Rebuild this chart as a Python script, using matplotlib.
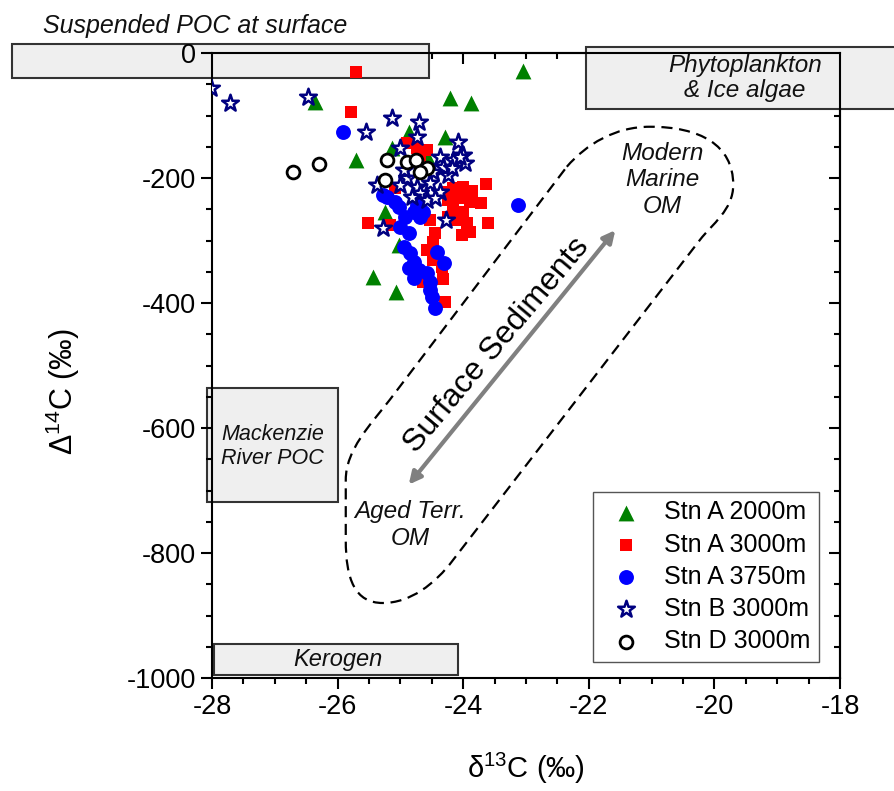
import matplotlib
matplotlib.use("Agg")
import matplotlib.pyplot as plt
from matplotlib.patches import Rectangle, PathPatch, FancyArrowPatch
from matplotlib.path import Path
from matplotlib.ticker import MultipleLocator

plt.rcParams["font.family"] = ["Liberation Sans", "DejaVu Sans"]
plt.rcParams["mathtext.default"] = "regular"
plt.rcParams["axes.unicode_minus"] = False

# ── Data (d13C, D14C) ────────────────────────────────────────────────────────
stnA2000_x = [-23.04, -26.36, -24.21, -23.87, -24.29, -24.87, -25.71, -25.14, -24.56,
              -25.25, -25.03, -25.43, -25.07]
stnA2000_y = [-29, -78, -72, -80, -134, -126, -171, -152, -168, -254, -307, -358, -382]

stnA3000_x = [-25.71, -25.79, -24.90, -24.74, -23.63, -23.71, -23.60, -23.89, -24.02,
              -25.51, -25.17, -24.53, -24.45, -24.48, -24.58, -24.48, -24.34, -24.32,
              -24.64, -24.29, -24.16, -24.00, -23.86, -24.24, -24.05, -23.89, -24.16,
              -24.00, -24.10, -23.94, -24.24, -24.29, -24.58, -24.69, -25.09]
stnA3000_y = [-30, -95, -144, -152, -210, -240, -272, -286, -291,
              -272, -275, -267, -288, -302, -315, -331, -342, -361,
              -366, -398, -216, -214, -220, -235, -232, -238, -251,
              -254, -267, -272, -262, -222, -155, -171, -216]

stnA3750_x = [-25.91, -23.12, -25.27, -25.22, -25.09, -25.03, -24.93, -24.79, -24.69,
              -24.74, -24.64, -25.01, -24.87, -24.95, -24.85, -24.79, -24.87, -24.71,
              -24.79, -24.58, -24.53, -24.42, -24.31, -24.50, -24.45, -24.53]
stnA3750_y = [-127, -243, -227, -230, -238, -246, -262, -254, -262,
              -243, -254, -278, -288, -310, -320, -334, -344, -347,
              -360, -352, -366, -318, -336, -390, -408, -379]

stnB3000_x = [-28.02, -27.71, -26.47, -25.13, -25.55, -24.70, -24.74, -24.08, -25.01,
              -24.37, -24.16, -24.00, -23.97, -24.32, -24.48, -24.24, -24.90, -24.74,
              -24.53, -24.37, -24.69, -24.82, -25.01, -24.58, -24.45, -24.18, -24.95,
              -24.27, -25.28, -25.38, -24.05]
stnB3000_y = [-56, -80, -70, -104, -126, -110, -134, -142, -152,
              -166, -171, -163, -176, -182, -190, -195, -200, -214,
              -208, -222, -224, -230, -211, -235, -232, -184, -187,
              -267, -280, -211, -166]

stnD3000_x = [-26.71, -26.29, -25.21, -24.90, -24.75, -24.58, -24.69, -25.25]
stnD3000_y = [-191, -178, -171, -174, -171, -184, -190, -203]

# end-member source boxes: x0, x1, y0, y1
box_x0 = [-31.18, -22.05, -28.085, -27.97]
box_x1 = [-24.54, -16.3, -26.0, -24.08]
box_y0 = [-40, -90, -718, -995]
box_y1 = [14, 10, -536, -946]

# dashed "surface sediments" envelope
env_pts = [(-22.35, -182), (-22.04, -146), (-21.58, -118), (-21.03, -118),
           (-20.23, -118), (-19.70, -147), (-19.70, -211),
           (-19.70, -251), (-20.04, -274), (-20.23, -299),
           (-24.16, -811),
           (-24.45, -850), (-24.85, -880), (-25.28, -880),
           (-25.72, -880), (-25.87, -843), (-25.87, -779),
           (-25.87, -683),
           (-25.87, -635), (-25.48, -595), (-25.17, -555),
           (-22.35, -182)]
env_codes = [Path.MOVETO, Path.CURVE4, Path.CURVE4, Path.CURVE4,
             Path.CURVE4, Path.CURVE4, Path.CURVE4,
             Path.CURVE4, Path.CURVE4, Path.CURVE4,
             Path.LINETO,
             Path.CURVE4, Path.CURVE4, Path.CURVE4,
             Path.CURVE4, Path.CURVE4, Path.CURVE4,
             Path.LINETO,
             Path.CURVE4, Path.CURVE4, Path.CURVE4,
             Path.LINETO]

# ── Figure ───────────────────────────────────────────────────────────────────
fig = plt.figure(figsize=(8.94, 7.91), dpi=100)
ax = fig.add_axes([212 / 894, 113 / 791, 628 / 894, 625 / 791])

for x0, x1, y0, y1 in zip(box_x0, box_x1, box_y0, box_y1):
    ax.add_patch(Rectangle((x0, y0), x1 - x0, y1 - y0, facecolor="#efefef",
                           edgecolor="#333333", lw=1.5, clip_on=False, zorder=0.5))

ax.text(-30.69, 43, "Suspended POC at surface", style="italic", fontsize=18,
        ha="left", va="center", color="#111111")
ax.text(-19.51, -40, "Phytoplankton\n& Ice algae", style="italic", fontsize=17.5,
        ha="center", va="center", linespacing=1.15, color="#111111")
ax.text(-27.04, -629, "Mackenzie\nRiver POC", style="italic", fontsize=15.5,
        ha="center", va="center", linespacing=1.2, color="#111111")
ax.text(-26.0, -971, "Kerogen", style="italic", fontsize=17,
        ha="center", va="center", color="#111111")

ax.add_patch(PathPatch(Path(env_pts, env_codes), facecolor="none", edgecolor="black",
                       lw=1.6, linestyle=(0, (5, 3)), zorder=1.5))
ax.add_patch(FancyArrowPatch((-24.895, -694), (-21.55, -280), arrowstyle="<|-|>",
                             mutation_scale=18, color="#808080", lw=3, zorder=1.6))
ax.text(-23.46, -467, "Surface Sediments", rotation=50, fontsize=23,
        ha="center", va="center", rotation_mode="anchor")
ax.text(-20.83, -203, "Modern\nMarine\nOM", style="italic", fontsize=17.5,
        ha="center", va="center", linespacing=1.2, color="#111111")
ax.text(-24.85, -755, "Aged Terr.\nOM", style="italic", fontsize=17.5,
        ha="center", va="center", linespacing=1.2, color="#111111")

ax.scatter(stnA2000_x, stnA2000_y, marker="^", s=130, color="#008000", lw=0,
           label="Stn A 2000m", zorder=3)
ax.scatter(stnA3000_x, stnA3000_y, marker="s", s=85, color="#ff0000", lw=0,
           label="Stn A 3000m", zorder=3.1)
ax.scatter(stnA3750_x, stnA3750_y, marker="o", s=115, color="#0000ff", lw=0,
           label="Stn A 3750m", zorder=3.2)
ax.scatter(stnB3000_x, stnB3000_y, marker="*", s=160, facecolor="white",
           edgecolor="#000080", lw=1.8, label="Stn B 3000m", zorder=3.3)
ax.scatter(stnD3000_x, stnD3000_y, marker="o", s=85, facecolor="white",
           edgecolor="black", lw=2, label="Stn D 3000m", zorder=3.4)

ax.set_xlim(-28, -18)
ax.set_ylim(-1000, 0)
ax.xaxis.set_major_locator(MultipleLocator(2))
ax.xaxis.set_minor_locator(MultipleLocator(0.5))
ax.yaxis.set_major_locator(MultipleLocator(200))
ax.yaxis.set_minor_locator(MultipleLocator(50))
ax.tick_params(which="both", direction="out", width=1.5, labelsize=19.5)
ax.tick_params(which="major", length=8)
ax.tick_params(which="minor", length=4.5)
for sp in ax.spines.values():
    sp.set_linewidth(1.5)

# mirrored ticks on top/right point inward
secx = ax.secondary_xaxis("top")
secx.xaxis.set_major_locator(MultipleLocator(2))
secx.xaxis.set_minor_locator(MultipleLocator(0.5))
secx.tick_params(which="both", direction="in", width=1.5, labeltop=False)
secx.tick_params(which="major", length=8)
secx.tick_params(which="minor", length=4.5)
secx.spines["top"].set_linewidth(1.5)
secy = ax.secondary_yaxis("right")
secy.yaxis.set_major_locator(MultipleLocator(200))
secy.yaxis.set_minor_locator(MultipleLocator(50))
secy.tick_params(which="both", direction="in", width=1.5, labelright=False)
secy.tick_params(which="major", length=8)
secy.tick_params(which="minor", length=4.5)
secy.spines["right"].set_linewidth(1.5)

ax.set_xlabel(r"$\delta^{13}$C (‰)", fontsize=21)
ax.xaxis.set_label_coords(0.5, -0.117)
ax.set_ylabel(r"$\Delta^{14}$C (‰)", fontsize=22)
ax.yaxis.set_label_coords(-0.207, 0.459)

leg = ax.legend(loc="lower right", bbox_to_anchor=(0.9666, 0.0256), borderaxespad=0,
                fontsize=18, fancybox=False, edgecolor="#555555", framealpha=1,
                handletextpad=0.5, labelspacing=0.33, borderpad=0.35, scatterpoints=1)
leg.get_frame().set_linewidth(1.0)

fig.savefig("out.png", dpi=100)
